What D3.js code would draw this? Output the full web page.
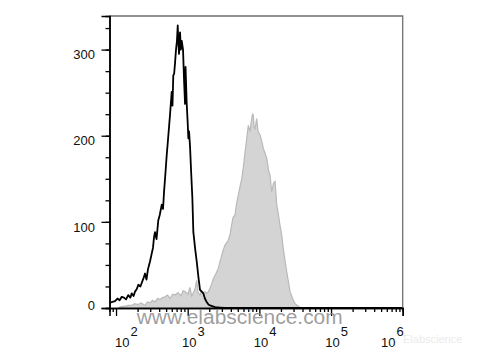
<!DOCTYPE html>
<html>
<head>
<meta charset="utf-8">
<script src="https://cdn.jsdelivr.net/npm/d3@7"></script>
<style>
  html, body { margin: 0; padding: 0; background: #fff; }
  svg { display: block; font-family: "Liberation Sans", Arial, sans-serif; }
</style>
</head>
<body>
<div id="chart"></div>
<script>
// unstained control (black outline), x as log10 of intensity
const unstainedLog = [1.909, 1.95, 1.986, 2.02, 2.05, 2.08, 2.11, 2.14, 2.17, 2.20, 2.219, 2.245, 2.265, 2.29, 2.311,
  2.34, 2.363, 2.385, 2.405, 2.425, 2.446, 2.474, 2.495, 2.516, 2.53, 2.544, 2.565, 2.59, 2.61, 2.638, 2.656, 2.67,
  2.684, 2.707, 2.725, 2.753, 2.777, 2.788, 2.799, 2.811, 2.823, 2.837, 2.85, 2.861, 2.872, 2.879, 2.893, 2.905,
  2.917, 2.935, 2.949, 2.963, 2.970, 2.986, 3.0, 3.009, 3.019, 3.033, 3.047, 3.065, 3.079, 3.09, 3.102, 3.126,
  3.151, 3.172, 3.195, 3.218, 3.24, 3.265, 3.29, 3.312, 3.35, 3.381, 3.45, 3.52, 6];
const unstainedCount = [6, 7, 8, 11, 9, 13, 12, 10, 15, 12, 17, 14, 19, 22, 27,
  25, 30, 35, 40, 33, 45, 54, 62, 70, 82, 88, 80, 102, 108, 120, 115, 135,
  150, 177, 195, 224, 251, 235, 270, 272, 284, 300, 310, 328, 305, 295, 320, 300,
  310, 300, 265, 237, 280, 238, 215, 197, 205, 187, 160, 128, 88, 80, 70, 54,
  35, 21, 19, 17, 11, 7, 4, 3, 2, 1, 0.5, 0, 0];

// stained sample (grey filled)
const stainedLog = [2.028, 2.05, 2.09, 2.126, 2.17, 2.223, 2.26, 2.307, 2.35, 2.405, 2.44, 2.474, 2.51, 2.544, 2.58,
  2.614, 2.65, 2.684, 2.72, 2.753, 2.79, 2.823, 2.865, 2.907, 2.935, 2.963, 3.005, 3.03, 3.056, 3.08, 3.102, 3.126,
  3.144, 3.172, 3.195, 3.214, 3.242, 3.265, 3.288, 3.312, 3.335, 3.358, 3.395, 3.427, 3.445, 3.465, 3.49, 3.521,
  3.563, 3.591, 3.61, 3.633, 3.66, 3.68, 3.706, 3.73, 3.754, 3.779, 3.8, 3.821, 3.846, 3.87, 3.893, 3.905, 3.916,
  3.925, 3.939, 3.963, 3.981, 4.009, 4.03, 4.056, 4.079, 4.103, 4.128, 4.149, 4.172, 4.198, 4.219, 4.242, 4.267,
  4.288, 4.312, 4.334, 4.358, 4.382, 4.407, 4.428, 4.451, 4.474, 4.498, 4.521, 4.547, 4.567, 4.595];
const stainedCount = [0, 1, 2, 2, 3, 3, 5, 4, 6, 3, 7, 6, 9, 7, 11,
  10, 12, 13, 15, 11, 16, 15, 18, 14, 20, 19, 16, 24, 14, 18, 22, 32,
  18, 15, 20, 18, 19, 17, 19, 23, 28, 34, 40, 46, 52, 58, 66, 73,
  78, 85, 95, 105, 108, 120, 131, 141, 150, 165, 181, 195, 212, 205, 220, 225, 224,
  210, 208, 220, 205, 201, 195, 185, 180, 174, 160, 154, 135, 145, 147, 120, 108,
  96, 85, 69, 55, 42, 30, 19, 14, 9, 5, 3.5, 2, 0.5, 0];

const xDecades = [2, 3, 4, 5, 6];
const yMajor = [0, 100, 200, 300];

const width = 480, height = 360;
const plot = { left: 109.5, right: 402.7, top: 16, bottom: 308 };

const svg = d3.select('#chart').append('svg')
  .attr('width', width)
  .attr('height', height);

const x = d3.scaleLog()
  .domain([Math.pow(10, 1.909), 1e6])
  .range([plot.left, plot.right]);

const y = d3.scaleLinear()
  .domain([0, 339])
  .range([plot.bottom, plot.top]);

svg.append('clipPath').attr('id', 'clip')
  .append('rect')
  .attr('x', plot.left).attr('y', plot.top)
  .attr('width', plot.right - plot.left).attr('height', plot.bottom - plot.top);

const stained = stainedLog.map((v, i) => [Math.pow(10, v), stainedCount[i]]);
const unstained = unstainedLog.map((v, i) => [Math.pow(10, v), unstainedCount[i]]);

const area = d3.area()
  .x(d => x(d[0]))
  .y0(y(0))
  .y1(d => y(d[1]));

const line = d3.line()
  .x(d => x(d[0]))
  .y(d => y(d[1]));

const g = svg.append('g').attr('clip-path', 'url(#clip)');

g.append('path')
  .datum(stained)
  .attr('d', area)
  .attr('fill', '#d4d4d4')
  .attr('stroke', '#b9b9b9')
  .attr('stroke-width', 1.2);

g.append('path')
  .datum(unstained)
  .attr('d', line)
  .attr('fill', 'none')
  .attr('stroke', '#000')
  .attr('stroke-width', 1.8)
  .attr('stroke-linejoin', 'round');

// frame top / right
svg.append('path')
  .attr('d', `M${plot.left},${plot.top}H${plot.right}V${plot.bottom}`)
  .attr('fill', 'none')
  .attr('stroke', '#707070')
  .attr('stroke-width', 1.3);

// x axis: minor + major ticks
const xMinor = [];
for (let d = 1; d < 6; d++) {
  for (let k = 2; k <= 9; k++) {
    const v = k * Math.pow(10, d);
    if (v >= x.domain()[0] && v <= 1e6) xMinor.push(v);
  }
}
const xMajorVals = xDecades.map(d => Math.pow(10, d));

function styleAxis(sel) {
  sel.select('.domain').attr('stroke', '#000').attr('stroke-width', 1.5);
  sel.selectAll('.tick line').attr('stroke', '#000').attr('stroke-width', 1.3);
  sel.selectAll('.tick text').remove();
}

svg.append('g')
  .attr('transform', `translate(0,${plot.bottom})`)
  .call(d3.axisBottom(x).tickValues(xMinor).tickSizeOuter(0).tickSize(4))
  .call(styleAxis);

svg.append('g')
  .attr('transform', `translate(0,${plot.bottom})`)
  .call(d3.axisBottom(x).tickValues(xMajorVals).tickSizeOuter(0).tickSize(8))
  .call(styleAxis);

// y axis
const yMinor = d3.range(0, 339, 25);
svg.append('g')
  .attr('transform', `translate(${plot.left},0)`)
  .call(d3.axisLeft(y).tickValues(yMinor).tickSizeOuter(0).tickSize(4))
  .call(styleAxis);

svg.append('g')
  .attr('transform', `translate(${plot.left},0)`)
  .call(d3.axisLeft(y).tickValues(yMajor).tickSizeOuter(0).tickSize(8))
  .call(styleAxis);

// x tick labels 10^n, end labels pulled inside
const xNudge = [4.7, 0, 0, 0, -16];
xDecades.forEach((d, i) => {
  const t = svg.append('text')
    .attr('x', x(Math.pow(10, d)) - 5.7 + xNudge[i])
    .attr('y', 346.5)
    .attr('font-size', 13)
    .attr('fill', '#111')
    .text('10');
  t.append('tspan')
    .attr('dx', 1)
    .attr('dy', -11)
    .attr('font-size', 13)
    .text(d);
});

// y tick labels
yMajor.forEach(v => {
  svg.append('text')
    .attr('x', 95)
    .attr('y', v === 0 ? 310 : y(v) + 9.7)
    .attr('text-anchor', 'end')
    .attr('font-size', 13)
    .attr('fill', '#111')
    .text(v);
});

// watermarks
svg.append('text')
  .attr('x', 136.7)
  .attr('y', 324)
  .attr('font-size', 20)
  .attr('textLength', 206)
  .attr('lengthAdjust', 'spacingAndGlyphs')
  .attr('fill', '#8c8c8c')
  .attr('fill-opacity', 0.85)
  .text('www.elabscience.com');

svg.append('text')
  .attr('x', 403)
  .attr('y', 343)
  .attr('font-size', 11)
  .attr('fill', '#ebebeb')
  .text('Elabscience');
</script>
</body>
</html>
